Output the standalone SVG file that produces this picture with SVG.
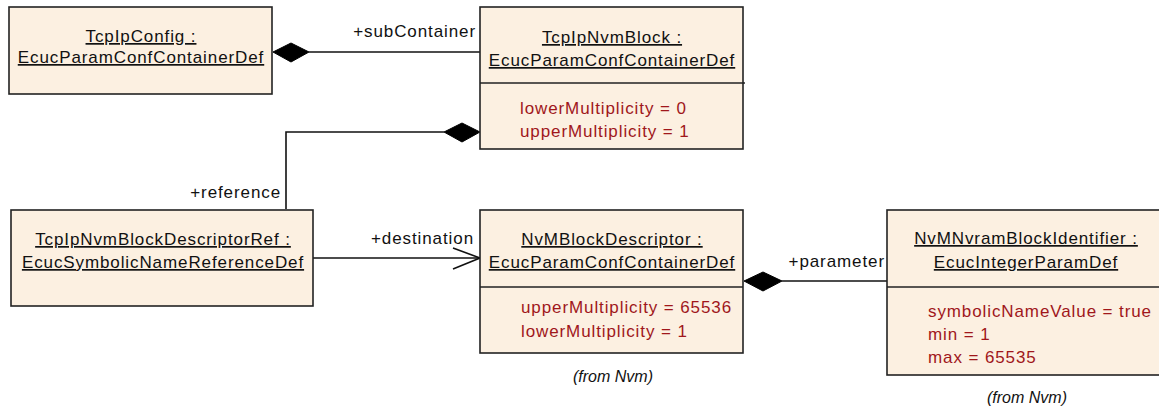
<svg xmlns="http://www.w3.org/2000/svg" width="1159" height="410" viewBox="0 0 1159 410">
<style>
.box{fill:#FCF0E1;stroke:#222;stroke-width:1.6}
.sep{stroke:#222;stroke-width:1.6}
text{font-family:"Liberation Sans",Arial,sans-serif;font-size:17px;letter-spacing:0.9px;fill:#111}
.name{text-anchor:middle;text-decoration:underline}
.attr{fill:#A0171B}
.lbl{text-anchor:end}
.from{text-anchor:middle;font-style:italic;font-size:16px;letter-spacing:0px}
.conn{fill:none;stroke:#111;stroke-width:1.6}
.dia{fill:#000;stroke:#000;stroke-width:1}
</style>
<rect width="1159" height="410" fill="#fff"/>
<g id="connectors">
<line class="conn" x1="309" y1="52" x2="480" y2="52"/>
<polygon class="dia" points="273,52 291,43 309,52 291,62"/>
<text class="lbl" x="476" y="37">+subContainer</text>
<polyline class="conn" points="286,209 286,132 444,132"/>
<polygon class="dia" points="444,132 462,123 480,132 462,142"/>
<text class="lbl" x="281" y="198">+reference</text>
<line class="conn" x1="313" y1="258" x2="480" y2="258"/>
<polyline class="conn" points="453,248 480,258 453,269"/>
<text class="lbl" x="474" y="244">+destination</text>
<line class="conn" x1="782" y1="281" x2="887" y2="281"/>
<polygon class="dia" points="744,281 763,272 782,281 763,291"/>
<text class="lbl" x="885" y="267">+parameter</text>
</g>
<g id="TcpIpConfig">
<rect class="box" x="9" y="7" width="263" height="87"/>
<text class="name" x="141" y="42">TcpIpConfig :</text>
<text class="name" x="141" y="63">EcucParamConfContainerDef</text>
</g>
<g id="TcpIpNvmBlock">
<rect class="box" x="480" y="7" width="263" height="142"/>
<line class="sep" x1="480" y1="83" x2="745" y2="83"/>
<text class="name" x="612" y="43">TcpIpNvmBlock :</text>
<text class="name" x="612" y="66">EcucParamConfContainerDef</text>
<text class="attr" x="520" y="114">lowerMultiplicity = 0</text>
<text class="attr" x="520" y="137">upperMultiplicity = 1</text>
</g>
<g id="TcpIpNvmBlockDescriptorRef">
<rect class="box" x="11" y="210" width="302" height="96"/>
<text class="name" x="163" y="245">TcpIpNvmBlockDescriptorRef :</text>
<text class="name" x="163" y="268">EcucSymbolicNameReferenceDef</text>
</g>
<g id="NvMBlockDescriptor">
<rect class="box" x="480" y="210" width="263" height="143"/>
<line class="sep" x1="480" y1="287" x2="743" y2="287"/>
<text class="name" x="612" y="245">NvMBlockDescriptor :</text>
<text class="name" x="612" y="268">EcucParamConfContainerDef</text>
<text class="attr" x="521" y="313">upperMultiplicity = 65536</text>
<text class="attr" x="521" y="337">lowerMultiplicity = 1</text>
<text class="from" x="613" y="382">(from Nvm)</text>
</g>
<g id="NvMNvramBlockIdentifier">
<rect class="box" x="887" y="210" width="290" height="165"/>
<line class="sep" x1="887" y1="287" x2="1159" y2="287"/>
<text class="name" x="1026" y="244">NvMNvramBlockIdentifier :</text>
<text class="name" x="1026" y="268">EcucIntegerParamDef</text>
<text class="attr" x="928" y="317">symbolicNameValue = true</text>
<text class="attr" x="928" y="340">min = 1</text>
<text class="attr" x="928" y="363">max = 65535</text>
<text class="from" x="1027" y="403">(from Nvm)</text>
</g>
</svg>
